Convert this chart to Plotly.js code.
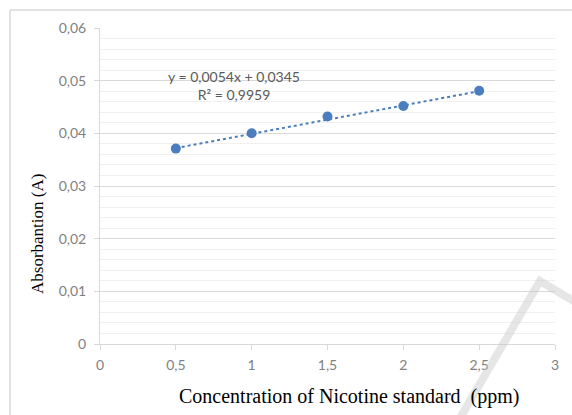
<!DOCTYPE html>
<html>
<head>
<meta charset="utf-8">
<script src="https://cdn.plot.ly/plotly-3.0.1.min.js"></script>
<style>html,body{margin:0;padding:0;background:#fff;}#chart{width:572px;height:415px;}</style>
</head>
<body>
<div id="chart"></div>
<script>
// Data
var concentration = [0.5, 1, 1.5, 2, 2.5];
var absorbance = [0.0371, 0.0400, 0.0432, 0.0452, 0.0481];
// Trendline as printed on the chart
var slope = 0.0054;
var intercept = 0.0345;
var trendX = [concentration[0], concentration[concentration.length - 1]];
var trendY = trendX.map(function (x) { return slope * x + intercept; });
var equationText = "y = 0,0054x + 0,0345<br>R² = 0,9959";
var xTitle = 'Concentration of Nicotine standard  (ppm)';
var yTitle = 'Absorbantion (A)';
var xTicks = [0, 0.5, 1, 1.5, 2, 2.5, 3];
var yTicks = [0, 0.01, 0.02, 0.03, 0.04, 0.05, 0.06];

var blue = '#4a7ebf';
var traces = [
  {x: trendX, y: trendY, mode: 'lines', line: {color: blue, width: 2, dash: 'dot'}, hoverinfo: 'skip', showlegend: false},
  {x: concentration, y: absorbance, mode: 'markers', marker: {color: blue, size: 10}, showlegend: false}
];

function px(x) { return (x - 100) / 455; }
function py(y) { return (344 - y) / 316; }

var titleFont = '"Liberation Serif", "Times New Roman", serif';
var layout = {
  width: 572, height: 415,
  margin: {l: 100, r: 17, t: 28, b: 71},
  paper_bgcolor: '#fff', plot_bgcolor: '#fff',
  separators: ', ',
  font: {family: 'Lato, "Open Sans", sans-serif', size: 14, color: '#595959'},
  xaxis: {
    range: [0, 3], tickvals: xTicks, showgrid: false, zeroline: false,
    showline: true, linecolor: '#d9d9d9', linewidth: 1,
    ticks: 'outside', ticklen: 5, tickcolor: '#d9d9d9',
    ticklabelstandoff: 3,
    tickfont: {size: 14, color: '#7f7f7f'}
  },
  yaxis: {
    range: [0, 0.06], tickvals: yTicks, showgrid: true, gridcolor: '#d9d9d9', gridwidth: 1,
    zeroline: false, showline: true, linecolor: '#d9d9d9', linewidth: 1,
    ticks: 'outside', ticklen: 5, tickcolor: '#d9d9d9',
    ticklabelstandoff: 5,
    tickfont: {size: 14, color: '#7f7f7f'},
    minor: {dtick: 0.002, showgrid: true, gridcolor: '#f0f0f0', gridwidth: 1}
  },
  annotations: [
    {x: 0.883, y: 0.0491, xref: 'x', yref: 'y', text: equationText, showarrow: false,
     align: 'center', font: {size: 14, color: '#595959', family: 'Lato, sans-serif'}},
    {x: px(349), y: py(396), xref: 'paper', yref: 'paper', text: xTitle, showarrow: false,
     xanchor: 'center', yanchor: 'middle', font: {family: titleFont, size: 20, color: '#000'}},
    {x: px(38), y: py(234), xref: 'paper', yref: 'paper', text: yTitle, showarrow: false, textangle: -90,
     xanchor: 'center', yanchor: 'middle', font: {family: titleFont, size: 17, color: '#000'}}
  ],
  shapes: [
    {type: 'line', xref: 'paper', yref: 'paper', x0: px(10), x1: px(575), y0: py(10), y1: py(10), line: {color: '#d9d9d9', width: 1.5}, layer: 'below'},
    {type: 'line', xref: 'paper', yref: 'paper', x0: px(10), x1: px(10), y0: py(10), y1: py(418), line: {color: '#d9d9d9', width: 1.5}, layer: 'below'},
    {type: 'path', xref: 'paper', yref: 'paper',
     path: 'M ' + px(460) + ' ' + py(418) + ' L ' + px(540) + ' ' + py(281) + ' L ' + px(575) + ' ' + py(302),
     line: {color: 'rgba(200,200,200,0.45)', width: 8}, layer: 'above'}
  ]
};

Plotly.newPlot('chart', traces, layout, {displayModeBar: false, staticPlot: true});
</script>
</body>
</html>
